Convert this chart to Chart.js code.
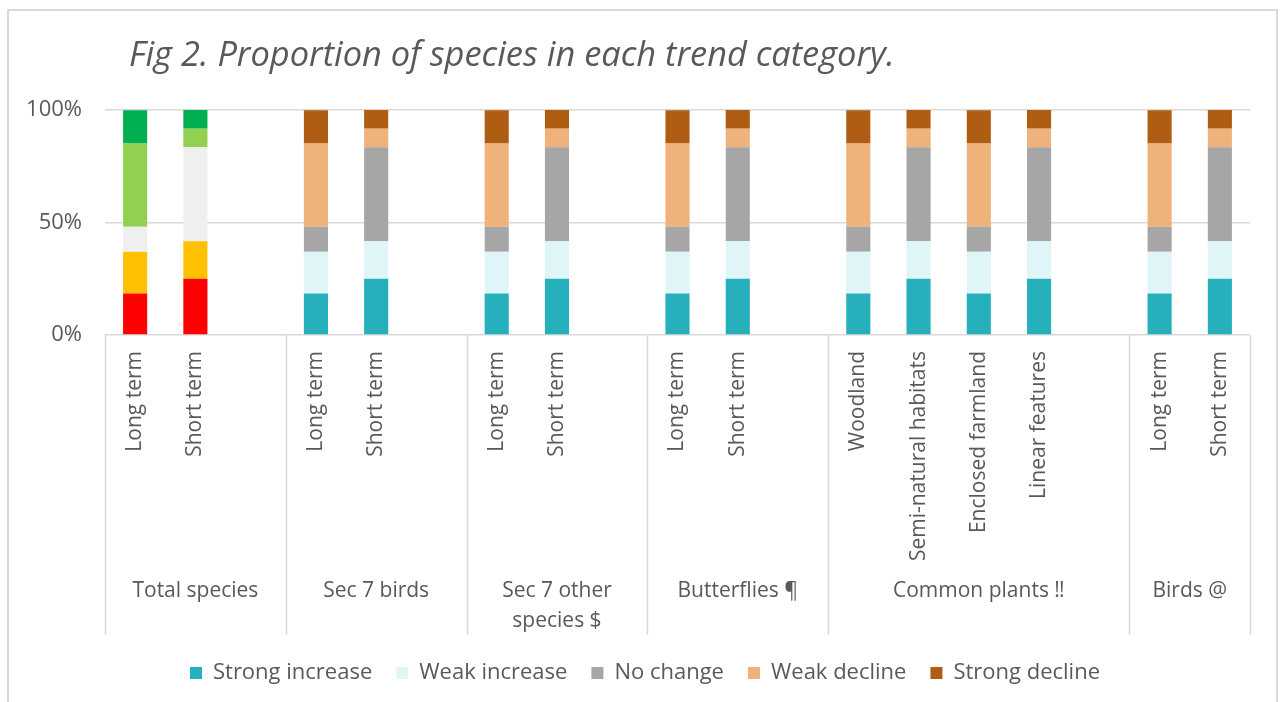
<!DOCTYPE html>
<html>
<head>
<meta charset="utf-8">
<script src="https://cdn.jsdelivr.net/npm/chart.js@4.4.1/dist/chart.umd.min.js"></script>
<style>
  html, body { margin: 0; padding: 0; background: #ffffff; }
  #wrap { width: 1281px; height: 702px; position: relative; }
</style>
</head>
<body>
<div id="wrap"><canvas id="c" width="1281" height="702"></canvas></div>
<script>
// ---- Data ----
const titleText = 'Fig 2. Proportion of species in each trend category.';
const categories = [
  'Long term', 'Short term', '',
  'Long term', 'Short term', '',
  'Long term', 'Short term', '',
  'Long term', 'Short term', '',
  'Woodland', 'Semi-natural habitats', 'Enclosed farmland', 'Linear features', '',
  'Long term', 'Short term'
];
const groupNames = [
  ['Total species'],
  ['Sec 7 birds'],
  ['Sec 7 other', 'species $'],
  ['Butterflies ¶'],
  ['Common plants \u203C'],
  ['Birds @']
];
const groupSizes = [3, 3, 3, 3, 5, 2];
const seriesNames = ['Strong increase', 'Weak increase', 'No change', 'Weak decline', 'Strong decline'];
const strongIncrease = [18.5, 25.0, null, 18.5, 25.0, null, 18.5, 25.0, null, 18.5, 25.0, null, 18.5, 25.0, 18.5, 25.0, null, 18.5, 25.0];
const weakIncrease   = [18.5, 16.7, null, 18.5, 16.7, null, 18.5, 16.7, null, 18.5, 16.7, null, 18.5, 16.7, 18.5, 16.7, null, 18.5, 16.7];
const noChange       = [11.1, 41.7, null, 11.1, 41.7, null, 11.1, 41.7, null, 11.1, 41.7, null, 11.1, 41.7, 11.1, 41.7, null, 11.1, 41.7];
const weakDecline    = [37.0,  8.3, null, 37.0,  8.3, null, 37.0,  8.3, null, 37.0,  8.3, null, 37.0,  8.3, 37.0,  8.3, null, 37.0,  8.3];
const strongDecline  = [14.8,  8.3, null, 14.8,  8.3, null, 14.8,  8.3, null, 14.8,  8.3, null, 14.8,  8.3, 14.8,  8.3, null, 14.8,  8.3];
const yTicks = [0, 50, 100];

// ---- Styles ----
const seriesColors = ['#26B0BC', '#E0F5F8', '#A6A6A6', '#EFB27A', '#AF5D13'];
const totalColors  = ['#FF0000', '#FFC000', '#EFEFEF', '#92D050', '#00B050'];
const FONT = "'Open Sans', 'Liberation Sans', sans-serif";
const TXT = '#595959';
const LINE = '#D9D9D9';

const seriesValues = [strongIncrease, weakIncrease, noChange, weakDecline, strongDecline];
const totalCount = groupSizes[0] - 1;

const datasets = seriesNames.map((name, i) => ({
  label: name,
  data: seriesValues[i],
  backgroundColor: (ctx) => (ctx.type === 'data' && ctx.dataIndex < totalCount) ? totalColors[i] : seriesColors[i],
  borderWidth: 0,
  barPercentage: 0.4,
  categoryPercentage: 1.0
}));

const decorPlugin = {
  id: 'decor',
  afterLayout(chart) {
    // nudge legend block to the reference's horizontal centre
    if (chart.legend) { chart.legend.left += 15; chart.legend.right += 15; }
  },
  afterDraw(chart) {
    const ctx = chart.ctx;
    const xs = chart.scales.x;
    const area = chart.chartArea;
    const slot = xs.getPixelForValue(1) - xs.getPixelForValue(0);
    ctx.save();
    // outer frame
    ctx.strokeStyle = LINE;
    ctx.lineWidth = 2;
    ctx.strokeRect(8, 10, 1269, 720);
    // title
    ctx.fillStyle = TXT;
    ctx.font = 'italic 34.4px ' + FONT;
    ctx.textAlign = 'left';
    ctx.textBaseline = 'middle';
    ctx.fillText(titleText, 129, 56);
    // group separators and labels
    const lineBottom = 635;
    ctx.strokeStyle = LINE;
    ctx.lineWidth = 1.5;
    let start = 0;
    const edges = [];
    groupSizes.forEach((n) => {
      edges.push(xs.getPixelForValue(start) - slot / 2);
      start += n;
    });
    edges.push(area.right);
    edges.forEach((ex) => {
      ctx.beginPath();
      ctx.moveTo(Math.round(ex) + 0.5, area.bottom);
      ctx.lineTo(Math.round(ex) + 0.5, lineBottom);
      ctx.stroke();
    });
    ctx.font = '21px ' + FONT;
    ctx.textAlign = 'center';
    ctx.fillStyle = TXT;
    groupNames.forEach((lines, g) => {
      const cx = (edges[g] + edges[g + 1]) / 2;
      lines.forEach((t, k) => ctx.fillText(t, cx, 591 + k * 30));
    });
    ctx.restore();
  }
};

new Chart(document.getElementById('c'), {
  type: 'bar',
  data: { labels: categories, datasets },
  options: {
    responsive: false,
    animation: false,
    layout: { padding: { left: 10, right: 31, top: 110, bottom: 8 } },
    plugins: {
      title: { display: false },
      tooltip: { enabled: false },
      legend: {
        position: 'bottom',
        labels: {
          color: TXT,
          font: { family: FONT, size: 22 },
          boxWidth: 12,
          boxHeight: 12,
          padding: 24,
          generateLabels(chart) {
            const items = Chart.defaults.plugins.legend.labels.generateLabels(chart);
            items.forEach((it) => {
              it.fillStyle = seriesColors[it.datasetIndex];
              it.strokeStyle = seriesColors[it.datasetIndex];
              it.lineWidth = 0;
            });
            return items;
          }
        }
      }
    },
    scales: {
      x: {
        stacked: true,
        grid: { display: false, drawTicks: false },
        border: { display: false },
        ticks: {
          color: TXT,
          font: { family: FONT, size: 21 },
          minRotation: 90,
          maxRotation: 90,
          autoSkip: false,
          padding: 16
        },
        afterFit(s) { s.height = 303; }
      },
      y: {
        stacked: true,
        min: 0,
        max: 100,
        afterBuildTicks(s) { s.ticks = yTicks.map(v => ({ value: v })); },
        grid: { color: LINE, lineWidth: 1.5, drawTicks: false },
        border: { display: false },
        ticks: {
          color: TXT,
          font: { family: FONT, size: 22 },
          padding: 23,
          callback: (v) => v + '%'
        },
        afterFit(s) { s.width = 95; }
      }
    }
  },
  plugins: [decorPlugin]
});
</script>
</body>
</html>
